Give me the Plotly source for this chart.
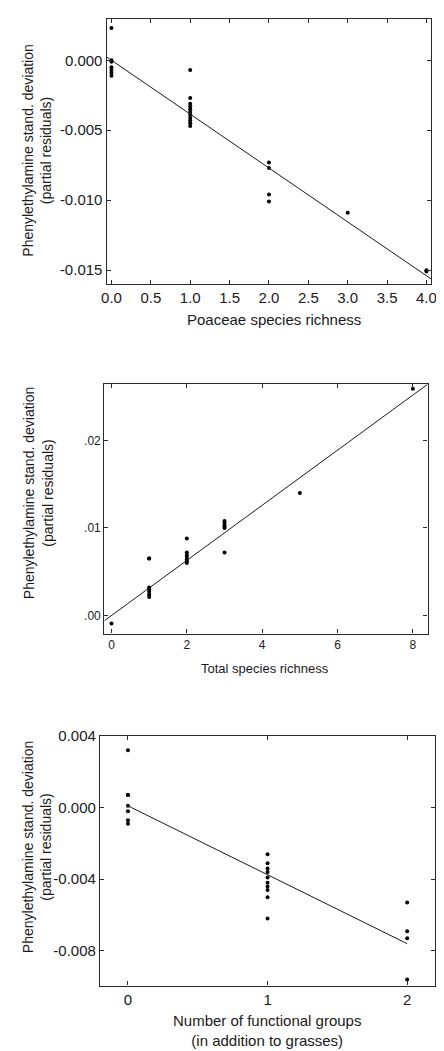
import plotly.graph_objects as go

# ---------------- Data ----------------
# Panel 1: Poaceae species richness
p1_x = [0, 0, 0, 0, 0, 0, 0,
        1, 1, 1, 1, 1, 1, 1, 1, 1, 1, 1,
        2, 2, 2, 2,
        3,
        4, 4]
p1_y = [0.0023, 0.0000, -0.0001, -0.0005, -0.0007, -0.0009, -0.0011,
        -0.0007, -0.0027, -0.0031, -0.0033, -0.0035, -0.0037, -0.0039, -0.0041, -0.0043, -0.0045, -0.0047,
        -0.0073, -0.0077, -0.0096, -0.0101,
        -0.0109,
        -0.0150, -0.0151]
p1_fit_x = [-0.06, 4.06]
p1_fit_y = [0.00023, -0.01563]

# Panel 2: Total species richness
p2_x = [0,
        1, 1, 1, 1, 1, 1, 1,
        2, 2, 2, 2, 2, 2, 2,
        3, 3, 3, 3, 3, 3,
        5,
        8]
p2_y = [-0.0009,
        0.0065, 0.0065, 0.0032, 0.0030, 0.0027, 0.0024, 0.0021,
        0.0088, 0.0072, 0.0069, 0.0067, 0.0064, 0.0062, 0.0060,
        0.0108, 0.0106, 0.0103, 0.0101, 0.0100, 0.0072,
        0.0140,
        0.0259]
p2_fit_x = [-0.19, 8.39]
p2_fit_y = [-0.0006, 0.0264]

# Panel 3: Number of functional groups
p3_x = [0, 0, 0, 0, 0, 0, 0,
        1, 1, 1, 1, 1, 1, 1, 1, 1, 1,
        2, 2, 2, 2]
p3_y = [0.0032, 0.0007, 0.0007, 0.0001, -0.0002, -0.0007, -0.0009,
        -0.0026, -0.0031, -0.0034, -0.0036, -0.0039, -0.0042, -0.0044, -0.0046, -0.0050, -0.0062,
        -0.0053, -0.0069, -0.0073, -0.0096]
p3_fit_x = [0, 2]
p3_fit_y = [0.0001, -0.0076]

# Tick labels
p1_xticks = [0, 0.5, 1, 1.5, 2, 2.5, 3, 3.5, 4]
p1_xtext = ["0.0", "0.5", "1.0", "1.5", "2.0", "2.5", "3.0", "3.5", "4.0"]
p1_yticks = [0.0, -0.005, -0.010, -0.015]
p1_ytext = ["0.000", "-0.005", "-0.010", "-0.015"]

p2_xticks = [0, 2, 4, 6, 8]
p2_xtext = ["0", "2", "4", "6", "8"]
p2_yticks = [0.0, 0.01, 0.02]
p2_ytext = [".00", ".01", ".02"]

p3_xticks = [0, 1, 2]
p3_xtext = ["0", "1", "2"]
p3_yticks = [0.004, 0.0, -0.004, -0.008]
p3_ytext = ["0.004", "0.000", "-0.004", "-0.008"]

ytitle = "Phenylethylamine stand. deviation<br>(partial residuals)"
x1title = "Poaceae species richness"
x2title = "Total species richness"
x3title = "Number of functional groups<br>(in addition to grasses)"

# ---------------- Layout helpers ----------------
OFF = 8  # page body margin
W, H = 444 - OFF, 1051 - OFF
FONT = "Arial, Liberation Sans, sans-serif"
INK = "#1a1a1a"


def px_x(a, b):
    return [(a - OFF) / W, (b - OFF) / W]


def px_y(top, bottom):
    return [1 - (bottom - OFF) / H, 1 - (top - OFF) / H]


def axis(domain, rng, tv, tt, fsize, anchor):
    return dict(domain=domain, range=rng, tickvals=tv, ticktext=tt,
                showline=True, linecolor="#2a2a2a", linewidth=1.3, mirror="ticks",
                ticks="inside", ticklen=4, tickwidth=1, tickcolor="#2a2a2a",
                showgrid=False, zeroline=False, anchor=anchor,
                tickfont=dict(family=FONT, size=fsize, color=INK))


fig = go.Figure()

marker = dict(color="black", size=4)
line = dict(color="#1a1a1a", width=1)

fig.add_trace(go.Scatter(x=p1_x, y=p1_y, mode="markers", marker=marker, xaxis="x", yaxis="y"))
fig.add_trace(go.Scatter(x=p1_fit_x, y=p1_fit_y, mode="lines", line=line, xaxis="x", yaxis="y"))
fig.add_trace(go.Scatter(x=p2_x, y=p2_y, mode="markers", marker=marker, xaxis="x2", yaxis="y2"))
fig.add_trace(go.Scatter(x=p2_fit_x, y=p2_fit_y, mode="lines", line=line, xaxis="x2", yaxis="y2"))
fig.add_trace(go.Scatter(x=p3_x, y=p3_y, mode="markers", marker=marker, xaxis="x3", yaxis="y3"))
fig.add_trace(go.Scatter(x=p3_fit_x, y=p3_fit_y, mode="lines", line=line, xaxis="x3", yaxis="y3"))

ann = []
for (xc, yc, txt, fs, ang) in [
    (33, 142.5, ytitle, 14, -90),
    (34, 488, ytitle, 14, -90),
    (32, 845, ytitle, 14, -90),
    (275.7, 312.7, x1title, 15, 0),
    (266.5, 665, x2title, 13, 0),
    (269, 1030.5, x3title, 15, 0),
]:
    ann.append(dict(text=txt, x=(xc - OFF) / W, y=1 - (yc - OFF) / H, xref="paper", yref="paper",
                    xanchor="center", yanchor="middle", showarrow=False, textangle=ang,
                    font=dict(family=FONT, size=fs, color=INK)))

fig.update_layout(
    width=W, height=H,
    margin=dict(l=0, r=0, t=0, b=0),
    paper_bgcolor="white", plot_bgcolor="white",
    showlegend=False,
    xaxis=axis(px_x(104, 437), [-0.062, 4.06], p1_xticks, p1_xtext, 15, "y"),
    yaxis=axis(px_y(10, 277.5), [-0.0160, 0.00295], p1_yticks, p1_ytext, 15, "x"),
    xaxis2=axis(px_x(101.7, 433.3), [-0.19, 8.39], p2_xticks, p2_xtext, 12, "y2"),
    yaxis2=axis(px_y(378.3, 630), [-0.00207, 0.02642], p2_yticks, p2_ytext, 12, "x2"),
    xaxis3=axis(px_x(97.3, 441), [-0.2, 2.2], p3_xticks, p3_xtext, 15, "y3"),
    yaxis3=axis(px_y(733.3, 985), [-0.00994, 0.004], p3_yticks, p3_ytext, 15, "x3"),
    annotations=ann,
)

fig.write_html("out.html")
